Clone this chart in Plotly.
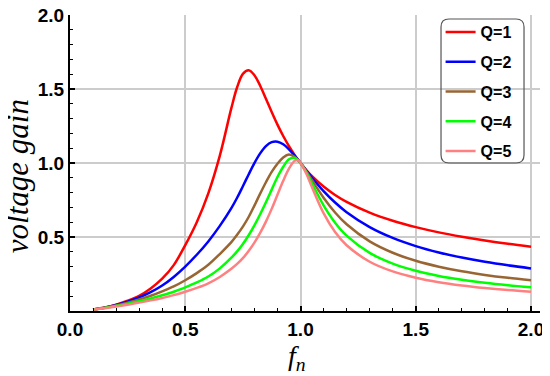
import plotly.graph_objects as go

# normalized frequency fn
fn = [0.1, 0.15, 0.2, 0.25, 0.3, 0.35, 0.4, 0.45, 0.5, 0.55, 0.6, 0.65, 0.7, 0.725, 0.75,
      0.775, 0.8, 0.825, 0.85, 0.875, 0.9, 0.925, 0.95, 0.975, 0.99, 1.0, 1.025, 1.05,
      1.1, 1.15, 1.2, 1.3, 1.4, 1.5, 1.6, 1.7, 1.8, 1.9, 2.0]

gain_q1 = [0.0102, 0.0233, 0.0426, 0.0690, 0.1020, 0.1520, 0.2180, 0.3100, 0.4450, 0.6000,
           0.7950, 1.0500, 1.3704, 1.5116, 1.6020, 1.6269, 1.5933, 1.5222, 1.4345, 1.3445,
           1.2594, 1.1823, 1.1138, 1.0533, 1.0205, 1.0000, 0.9530, 0.9113, 0.8411, 0.7843,
           0.7374, 0.6645, 0.6098, 0.5667, 0.5314, 0.5018, 0.4762, 0.4538, 0.4339]
gain_q2 = [0.0100, 0.0225, 0.0401, 0.0630, 0.0914, 0.1270, 0.1720, 0.2300, 0.3000, 0.3800,
           0.4700, 0.5750, 0.6950, 0.7650, 0.8430, 0.9227, 0.9993, 1.0653, 1.1141, 1.1408,
           1.1440, 1.1262, 1.0926, 1.0488, 1.0199, 1.0000, 0.9498, 0.9007, 0.8103, 0.7329,
           0.6678, 0.5670, 0.4938, 0.4386, 0.3955, 0.3609, 0.3323, 0.3084, 0.2879]
gain_q3 = [0.0098, 0.0214, 0.0369, 0.0557, 0.0777, 0.1030, 0.1330, 0.1660, 0.2080, 0.2560,
           0.3120, 0.3850, 0.4650, 0.5150, 0.5700, 0.6350, 0.7120, 0.7930, 0.8700, 0.9400,
           0.9950, 1.0380, 1.0570, 1.0410, 1.0188, 1.0000, 0.9446, 0.8838, 0.7658, 0.6659,
           0.5858, 0.4704, 0.3937, 0.3396, 0.2995, 0.2686, 0.2440, 0.2239, 0.2071]
gain_q4 = [0.0095, 0.0201, 0.0334, 0.0487, 0.0659, 0.0850, 0.1062, 0.1303, 0.1600, 0.1930,
           0.2330, 0.2880, 0.3600, 0.4030, 0.4530, 0.5120, 0.5790, 0.6540, 0.7350, 0.8200,
           0.9050, 0.9750, 1.0250, 1.0340, 1.0180, 1.0000, 0.9375, 0.8616, 0.7142, 0.5970,
           0.5093, 0.3925, 0.3204, 0.2719, 0.2370, 0.2108, 0.1902, 0.1737, 0.1600]
gain_q5 = [0.0091, 0.0187, 0.0301, 0.0427, 0.0565, 0.0716, 0.0883, 0.1071, 0.1300, 0.1560,
           0.1870, 0.2300, 0.2850, 0.3180, 0.3570, 0.4050, 0.4620, 0.5280, 0.6040, 0.6900,
           0.7850, 0.8800, 0.9620, 1.0150, 1.0180, 1.0000, 0.9286, 0.8354, 0.6611, 0.5335,
           0.4443, 0.3329, 0.2675, 0.2248, 0.1948, 0.1724, 0.1551, 0.1412, 0.1299]

series_names = ["Q=1", "Q=2", "Q=3", "Q=4", "Q=5"]
series_colors = ["#ff0000", "#0000ff", "#996633", "#00ff00", "#ff8080"]

x_ticks = [0.0, 0.5, 1.0, 1.5, 2.0]
y_ticks = [0.5, 1.0, 1.5, 2.0]

fig = go.Figure()
for i, (name, ys, col) in enumerate(zip(series_names,
                                        [gain_q1, gain_q2, gain_q3, gain_q4, gain_q5],
                                        series_colors)):
    fig.add_trace(go.Scatter(x=fn, y=ys, mode="lines", name=name,
                             legendgroup=f"g{i}",
                             line=dict(color=col, width=2.5, shape="spline", smoothing=1.0)))

tickfont = dict(family="Liberation Sans, Arial", size=19, color="black", weight="bold")

axis_common = dict(showgrid=True, gridcolor="#cccccc", gridwidth=1.5,
                   showline=True, linecolor="black", linewidth=2,
                   ticks="inside", ticklen=5, tickwidth=1.5, tickcolor="black",
                   minor=dict(dtick=0.1, ticks="inside", ticklen=3, tickwidth=1,
                              tickcolor="black", showgrid=False),
                   tickfont=tickfont, zeroline=False, automargin=False,
                   ticklabeloverflow="allow")

# the page body adds an 8px offset, so the figure is 8px smaller on each side
fig.update_layout(
    width=542, height=368,
    margin=dict(l=62, r=10, t=7, b=65),
    paper_bgcolor="white", plot_bgcolor="white",
    showlegend=True,
    legend=dict(x=0.7885, y=1.0, xanchor="left", yanchor="top",
                bgcolor="rgba(0,0,0,0)", borderwidth=0,
                traceorder="grouped", tracegroupgap=6,
                font=dict(family="Liberation Sans, Arial", size=16, color="black", weight="bold")),
    xaxis=dict(range=[0, 2.039], tickvals=x_ticks, ticktext=[f"{v:.1f}" for v in x_ticks],
               **axis_common),
    yaxis=dict(range=[0, 2.0], tickvals=y_ticks, ticktext=[f"{v:.1f}" for v in y_ticks],
               **axis_common),
)

# rounded legend frame
x0, x1, y0, y1 = 0.7894, 0.9660, 0.5, 0.9865
rx, ry = 0.017, 0.027
path = (f"M{x0+rx},{y1} L{x1-rx},{y1} Q{x1},{y1} {x1},{y1-ry} L{x1},{y0+ry} "
        f"Q{x1},{y0} {x1-rx},{y0} L{x0+rx},{y0} Q{x0},{y0} {x0},{y0+ry} "
        f"L{x0},{y1-ry} Q{x0},{y1} {x0+rx},{y1} Z")
fig.add_shape(type="path", path=path, xref="paper", yref="paper",
              line=dict(color="#555555", width=1.2), fillcolor="rgba(0,0,0,0)")

serif = "Liberation Serif, Times New Roman, serif"
fig.add_annotation(text="<i>voltage gain</i>", xref="paper", yref="paper",
                   x=-0.113, y=0.455, textangle=-90, showarrow=False,
                   font=dict(family=serif, size=31, color="black"),
                   xanchor="center", yanchor="middle")
fig.add_annotation(text="<i>f</i><sub><i>n</i></sub>", xref="paper", yref="paper",
                   x=0.482, y=-0.158, showarrow=False,
                   font=dict(family=serif, size=28, color="black"),
                   xanchor="center", yanchor="middle")

fig.write_html("out.html")
